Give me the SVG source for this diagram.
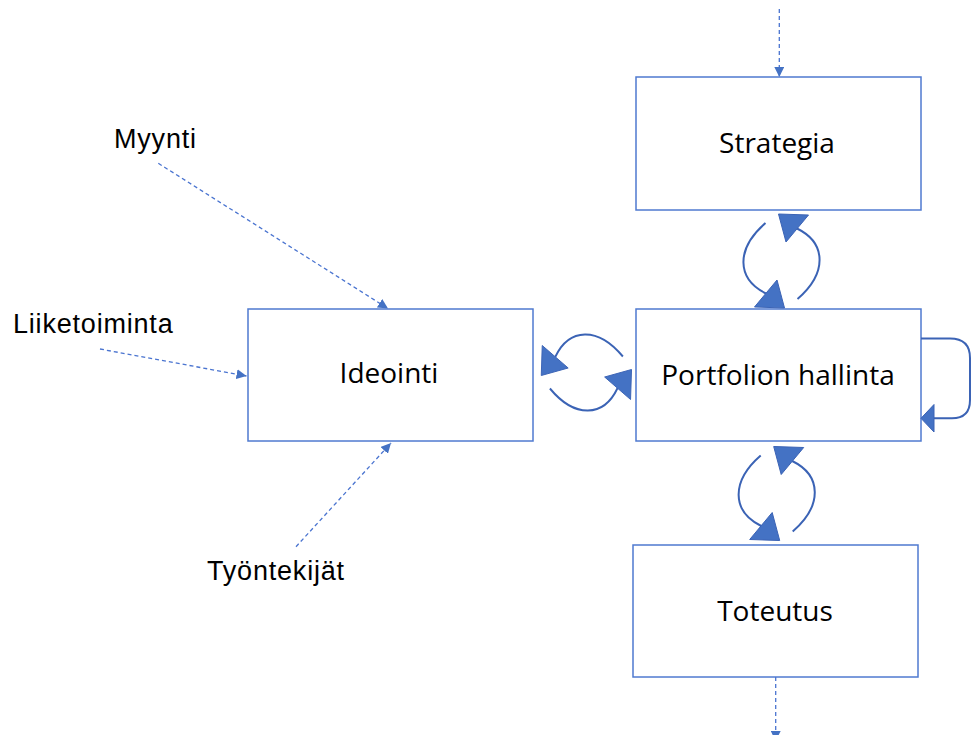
<svg xmlns="http://www.w3.org/2000/svg" width="971" height="735" viewBox="0 0 971 735">
  <style>
    .box { fill: #ffffff; stroke: #4f7ad0; stroke-width: 1.5; }
    .boxlabel { font-family: "Open Sans", "Noto Sans", sans-serif; font-size: 28px; fill: #000000; text-anchor: middle; }
    .source { font-family: "Liberation Sans", Arial, sans-serif; font-size: 27px; letter-spacing: 0.8px; fill: #000000; }
    .dash { fill: none; stroke: #4a74d0; stroke-width: 1.3; stroke-dasharray: 4 3; marker-end: url(#tip); }
    .arc { fill: none; stroke: #3b63b5; stroke-width: 2; }
    .head { fill: #4472c4; stroke: #3b63b5; stroke-width: 1; stroke-linejoin: round; }
  </style>
  <defs>
    <marker id="tip" markerUnits="userSpaceOnUse" markerWidth="10" markerHeight="10" viewBox="0 0 10 10" refX="10" refY="5" orient="auto">
      <path d="M0,0 L10,5 L0,10 Z" fill="#4472c4"/>
    </marker>
    <!-- two-way circular arrow, centred on the origin, vertical orientation -->
    <g id="cycle">
      <path class="arc" d="M -16 -38 C -46 -12, -45 18, -15.5 32.5"/>
      <path class="arc" d="M 16 38 C 46 12, 45 -18, 15.5 -32.5"/>
      <polygon class="head" points="-3,-47 27,-46 4.5,-19"/>
      <polygon class="head" points="3,47 -27,46 -4.5,19"/>
    </g>
  </defs>

  <!-- nodes -->
  <g id="strategia">
    <rect class="box" x="636" y="77" width="285" height="133"/>
    <text class="boxlabel" x="777" y="153">Strategia</text>
  </g>
  <g id="ideointi">
    <rect class="box" x="248" y="309" width="285" height="132"/>
    <text class="boxlabel" x="389" y="383">Ideointi</text>
  </g>
  <g id="portfolion-hallinta">
    <rect class="box" x="636" y="309" width="285" height="132"/>
    <text class="boxlabel" x="778" y="385">Portfolion hallinta</text>
  </g>
  <g id="toteutus">
    <rect class="box" x="633" y="545" width="285" height="132"/>
    <text class="boxlabel" x="775" y="621">Toteutus</text>
  </g>
  <g id="myynti">
    <text class="source" x="114" y="148">Myynti</text>
  </g>
  <g id="liiketoiminta">
    <text class="source" x="13" y="333">Liiketoiminta</text>
  </g>
  <g id="tyontekijat">
    <text class="source" x="207" y="580">Työntekijät</text>
  </g>

  <!-- connectors -->
  <g id="connectors">
    <line class="dash" x1="779.3" y1="9" x2="779.3" y2="77"/>
    <line class="dash" x1="775.7" y1="677" x2="775.7" y2="741"/>
    <line class="dash" x1="158.3" y1="163.3" x2="388" y2="308.5"/>
    <line class="dash" x1="100" y1="349" x2="246.5" y2="376"/>
    <line class="dash" x1="296" y1="546.7" x2="391" y2="443"/>

    <use href="#cycle" transform="translate(781.5,261)"/>
    <use href="#cycle" transform="translate(776.7,493.5)"/>
    <use href="#cycle" transform="translate(586.4,372.5) rotate(-90) scale(1,0.96)"/>

    <!-- self loop on Portfolion hallinta -->
    <path class="arc" d="M 921 338.5 H 950 Q 970 338.5 970 358 V 400 Q 970 418.3 952 418.3 H 932"/>
    <polygon class="head" points="921,418.3 934,404.5 934,432"/>
  </g>
</svg>
